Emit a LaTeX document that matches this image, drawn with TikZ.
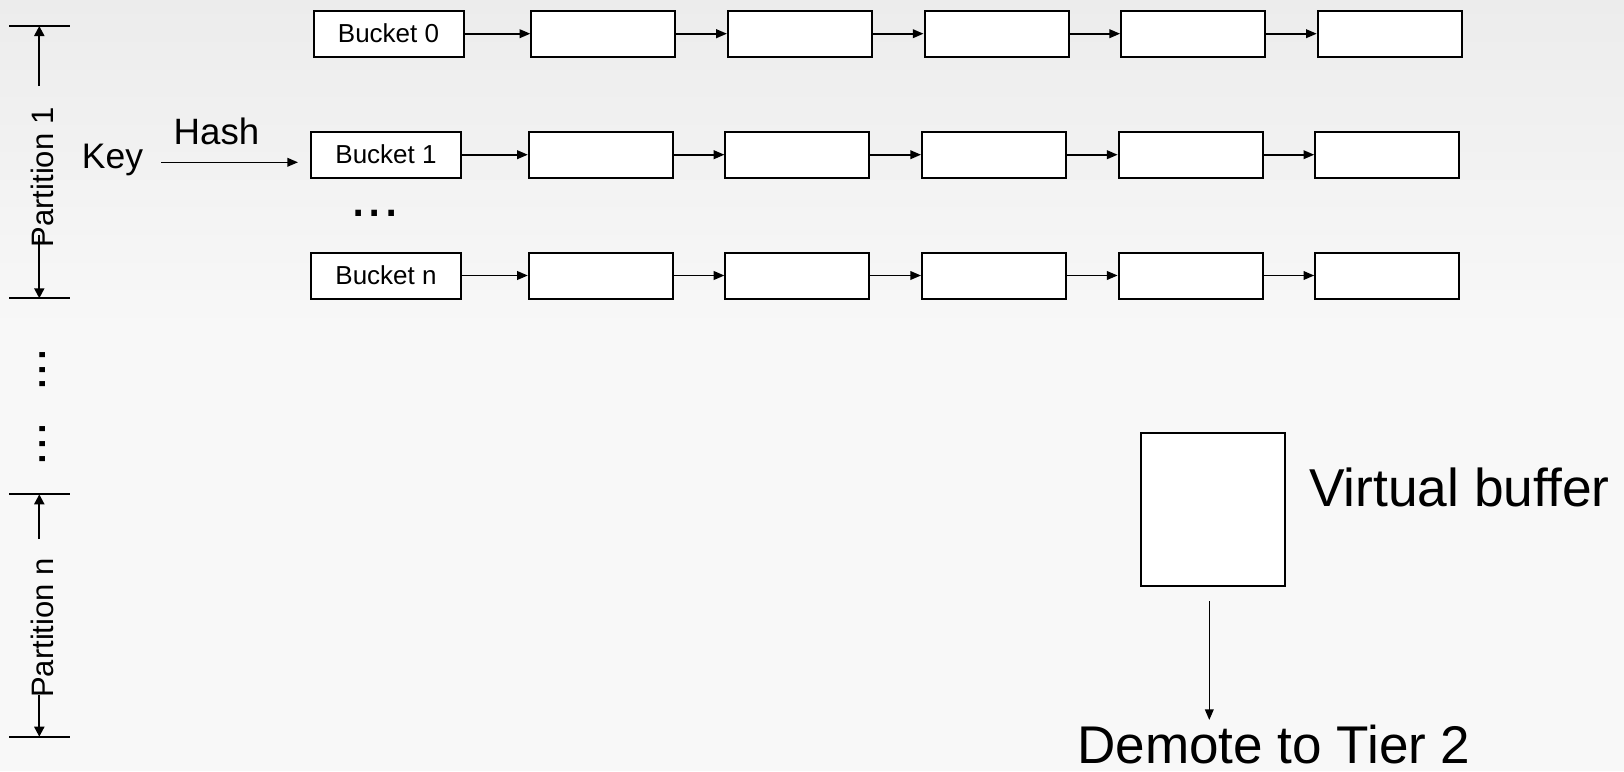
\documentclass[tikz,border=0pt]{standalone}
\usepackage{fontspec}
\setmainfont{Liberation Sans}
\usetikzlibrary{arrows.meta}
\definecolor{bgtop}{HTML}{ECECEC}
\definecolor{bgmid}{HTML}{F8F8F8}
\begin{document}
\begin{tikzpicture}[x=0.75pt,y=-0.75pt,
  cell/.style={draw=black, line width=1.5pt, fill=white, minimum width=108pt,
    minimum height=34.5pt, inner sep=0pt},
  head/.style={cell, minimum width=112.5pt, font=\fontsize{19.5}{21}\selectfont},
  link/.style={line width=1.2pt, -{Triangle[length=8pt,width=6.5pt]}},
  dimarrow/.style={line width=1.5pt, -{Triangle[length=7.5pt,width=7.5pt]}},
  tickline/.style={line width=1.5pt},
  lbl/.style={inner sep=0pt, text=black},
]
\useasboundingbox (0,0) rectangle (1624,771);
% background
\shade[top color=bgtop, bottom color=bgmid] (0,0) rectangle (1624,331);
\fill[bgmid] (0,330) rectangle (1624,771);

% hash table: bucket heads and their chains
\foreach \r/\y/\dx/\lab in {0/33.7/2.5/Bucket 0, 1/154.7/0/Bucket 1, n/275.5/0/Bucket n}{
  \node[head] (b\r) at ({386+\dx},\y) {\lab};
  \foreach \k in {1,...,5}{
    \node[cell] (c\r\k) at ({600.8+196.6*(\k-1)+\dx},\y) {};
  }
  \draw[link] (b\r.east) -- (c\r1.west);
  \foreach \k [evaluate=\k as \kk using int(\k+1)] in {1,...,4}{
    \draw[link] (c\r\k.east) -- (c\r\kk.west);
  }
}
\node[lbl, anchor=base, font=\fontsize{44}{46}\selectfont] (rowdots) at (375,216) {...};

% key hashing into a bucket
\node[lbl, anchor=base west, font=\fontsize{26.6}{28}\selectfont] (key) at (81.7,168) {Key};
\coordinate (hashstart) at (161,162.3);
\coordinate (hashend) at (298,162.3);
\draw[link] (hashstart) -- (hashend);
\node[lbl, anchor=base, font=\fontsize{27.5}{29}\selectfont] (hash) at (216.5,144) {Hash};

% partition 1 extent
\coordinate (p1top) at (39.3,26);
\coordinate (p1bot) at (39.3,298.3);
\draw[tickline] (9.3,26) -- (70,26);
\draw[tickline] (9.3,298.3) -- (70,298.3);
\coordinate (p1up) at (39.3,86);
\coordinate (p1dn) at (39.3,235);
\draw[dimarrow] (p1up) -- (p1top);
\draw[dimarrow] (p1dn) -- (p1bot);
\node[lbl, rotate=90, anchor=base, font=\fontsize{23.25}{25}\selectfont] (part1) at (53.3,177.5) {Partition 1};

% further partitions
\node[lbl, rotate=90, anchor=base, font=\fontsize{40}{42}\selectfont] (vdots1) at (45.2,369.7) {...};
\node[lbl, rotate=90, anchor=base, font=\fontsize{40}{42}\selectfont] (vdots2) at (45.2,444.3) {...};

% partition n extent
\coordinate (pntop) at (39.3,494.3);
\coordinate (pnbot) at (39.3,736.7);
\draw[tickline] (9.3,494.3) -- (70,494.3);
\draw[tickline] (9.3,736.7) -- (70,736.7);
\coordinate (pnup) at (39.3,539);
\coordinate (pndn) at (39.3,695);
\draw[dimarrow] (pnup) -- (pntop);
\draw[dimarrow] (pndn) -- (pnbot);
\node[lbl, rotate=90, anchor=base, font=\fontsize{23.25}{25}\selectfont] (partn) at (53.3,628) {Partition n};

% virtual buffer and demotion
\node[draw=black, line width=1.5pt, fill=white, minimum width=108.2pt, minimum height=114.5pt,
  inner sep=0pt] (vb) at (1212.9,509.7) {};
\node[lbl, anchor=base west, font=\fontsize{40}{42}\selectfont] (vblabel) at (1309,506.7) {Virtual buffer};
\coordinate (demtip) at (1209.3,720);
\draw[link, shorten <=10.5pt] (vb.south -| demtip) -- (demtip);
\node[lbl, anchor=base west, font=\fontsize{39.8}{42}\selectfont] (demote) at (1077,763) {Demote to Tier 2};
\end{tikzpicture}
\end{document}
